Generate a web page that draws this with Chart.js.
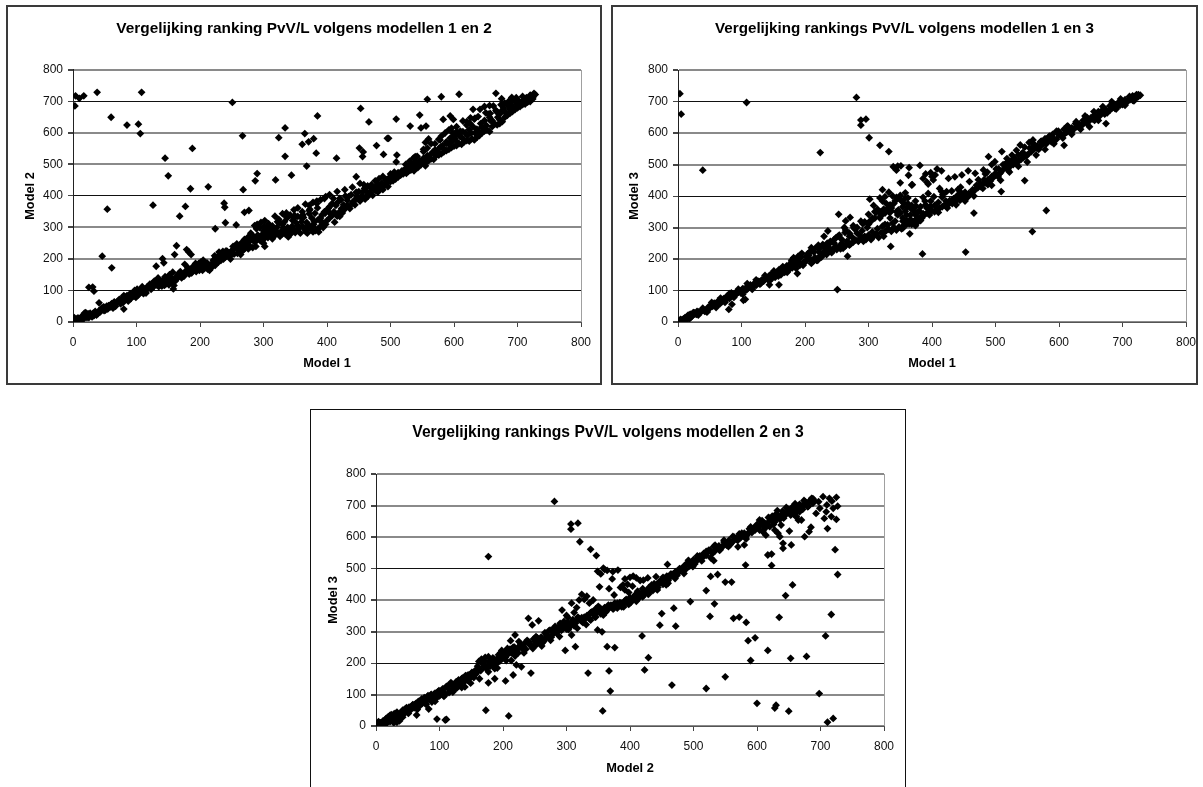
<!DOCTYPE html>
<html>
<head>
<meta charset="utf-8">
<style>
  html, body { margin:0; padding:0; background:#fff; width:1203px; height:787px; overflow:hidden; }
  canvas { position:absolute; }
  .box { position:absolute; box-sizing:border-box; background:#fff; }
</style>
<script src="https://cdn.jsdelivr.net/npm/chart.js@4/dist/chart.umd.min.js"></script>
</head>
<body>
<div class="box" style="left:6px;top:5px;width:596px;height:380px;border:2px solid #3a3a3a"></div>
<div class="box" style="left:611px;top:5px;width:587px;height:380px;border:2px solid #3a3a3a"></div>
<div class="box" style="left:310px;top:409px;width:596px;height:400px;border:1px solid #111"></div>
<canvas id="c12" width="596" height="380" style="left:6px;top:5px"></canvas>
<canvas id="c13" width="587" height="380" style="left:611px;top:5px"></canvas>
<canvas id="c23" width="596" height="377" style="left:310px;top:410px"></canvas>
<script>
const tickValues = [0, 100, 200, 300, 400, 500, 600, 700, 800];

// model 1 against model 2
const x12Far = [3,4,10,17,38,108,60,85,103,106,251,267,385,334,324,365,361,371,379,383,334,368,344,319,287,290,268,213,185,188,145,150,126,177,168,238,239,240,224,257,270,277,54,46,61,25,31,33,41,80,163,160,179,182,186,176,141,143,131,158,302,415,453,466,509,531,546,548,556,558,580,608,666,675,691,451,457,456,478,489,495,497,510,509,446,412,420];
const y12Far = [686,718,710,718,729,729,650,625,628,598,697,591,654,616,585,598,564,572,582,536,526,495,466,451,448,471,420,429,423,551,520,464,371,367,336,377,364,315,296,308,348,354,358,209,172,110,111,98,61,41,242,214,230,223,214,183,201,188,177,105,240,520,678,635,644,622,657,616,622,707,715,723,726,709,713,552,540,525,560,532,583,583,530,508,461,317,335];
const x12Low = [0,2,4,6,8,10,13,16,18,20,23,26,29,32,35,38,41,44,47,50,53,56,59,62,65,68,71,74,77,80,83,86,89,92,95,98,101,104,107,110,113,116,119,122,125,128,131,134,137,140,143,146,149,152,155,158,161,164,167,170,173,176,179,182,185,188,191,194,197,200,203,206,209,212,215,218,221,224,227,230,233,236,239,242,245,248,250,254,258,262,266,270,274,278,282,286,290,294,298,302,306,310,314,318,322,326,330,334,338,342,346,350,354,358,362,366,370,374,378,382,386,390,394,398,400,404,408,412,416,420,424,428,432,436,440,444,448,452,456,460,464,468,472,476,480,484,488,492,496,500,504,508,512,516,520,524,528,532,536,540,544,548,552,556,560,564,568,572,576,580,584,588,592,596,600,604,608,612,616,620,624,628,632,636,640,644,648,652,656,660,664,668,672,676,680,684,688,692,696,700,704,708,712,716,720,724,728];
const y12Low = [2,14,3,6,5,10,12,8,28,30,24,22,20,28,34,30,36,38,44,46,50,52,48,54,64,58,66,70,74,84,78,80,86,82,90,96,104,90,96,98,104,106,108,116,122,130,118,140,126,114,120,128,132,150,124,136,130,146,152,148,150,156,160,158,162,170,176,160,180,170,176,192,186,168,164,172,196,180,202,222,196,224,208,214,210,200,226,216,234,222,244,232,250,256,262,254,260,270,278,266,274,282,264,276,284,272,290,280,292,278,296,284,296,282,302,290,310,296,304,290,296,304,300,310,322,330,338,345,336,350,346,358,370,360,378,372,392,384,398,390,404,410,402,418,412,426,420,436,430,446,448,454,460,466,470,476,478,482,486,492,496,500,504,508,512,518,516,528,530,534,540,544,548,554,558,560,566,564,572,576,574,582,578,586,592,600,606,610,604,620,628,626,642,636,650,656,662,668,674,680,684,690,692,698,700,708,722];
const x12Up = [252,258,264,270,276,280,286,290,296,302,308,314,318,324,330,336,342,348,354,360,366,372,378,384,390,396,398,404,410,416,422,428,434,440,446,452,458,464,470,476,482,488,494,500,506,512,518,524,530,536,542,548,552,558,564,570,576,580,586,592,598,604,610,614,620,626,632,638,644,650,656,662,668,674,680,686,692,698,704,708,712,716,720,724];
const y12Up = [240,236,246,262,270,282,306,310,316,322,312,305,336,326,344,346,340,356,362,330,374,370,380,384,388,392,398,404,392,414,388,420,398,428,412,440,436,432,436,448,455,462,452,470,476,474,480,500,510,520,526,500,548,552,566,566,580,590,600,610,600,620,606,638,636,648,644,652,620,664,650,686,666,690,695,700,704,712,690,716,700,708,720,712];
const x12Mid = [300,306,312,322,330,338,346,354,362,368,372,376,380,386,392,398,404,410,630,641,648,656,657,667,672,583,594,599,596,601,604,614,625,633,620,638,651,578,588,560,555,552,539];
const y12Mid = [290,298,282,318,310,300,322,335,340,316,344,330,318,325,340,352,366,344,675,675,684,687,662,668,630,643,654,643,615,583,604,604,631,647,625,594,610,578,567,581,570,541,525];
const x12FillA = [5,11,17,22,27,33,39,45,51,57,63,69,75,81,87,93,99,105,111,117,123,129,135,141,147,153,159,165,171,177,183,189,195,201,207,213,219,225,231,237,243,249,255,261,267,273,279,285,291,297,303,309,315,321,327,333,339,345,351,357,363,369,375,381,387,393];
const y12FillA = [8,4,22,14,28,20,26,44,38,52,44,62,58,76,66,88,78,100,90,112,104,124,112,132,122,142,116,150,140,160,152,176,166,190,170,182,186,204,210,200,224,216,240,230,226,252,240,270,276,256,284,290,270,300,286,318,270,304,316,300,332,282,300,345,286,312];
const x12FillB = [9,15,25,31,37,43,49,55,61,67,73,79,85,91,97,103,109,115,121,127,133,139,145,151,157,163,169,175,181,187,193,199,205,211,217,223,229,235,241,247,253,259,265,271,277,283,289,295,301,307,313,319,325,331,337,343,349,355,361,367,373,379,385,391,397];
const y12FillB = [12,20,14,24,22,32,36,42,58,50,72,62,84,74,100,86,112,92,120,114,134,118,144,118,158,136,160,146,172,156,186,164,196,188,176,210,190,216,226,212,232,218,250,242,262,236,296,258,304,268,296,290,314,300,330,292,338,296,350,286,358,310,362,320,345];
const x12FillC = [402,408,414,420,426,432,438,444,450,456,462,468,474,480,486,492,498,504,510,516,522,528,534,540,546,552,558,564,570,576,582,588,594,600,606,612,618,624,630,636,642,648,654,660,666,672,678,684,690,696,702,708,714,720,726];
const y12FillC = [360,376,370,392,372,386,404,388,414,412,416,428,422,438,440,450,458,462,466,470,484,490,500,508,512,520,528,534,546,550,560,572,584,590,598,586,600,610,620,612,630,640,660,640,672,660,680,690,690,700,702,698,712,716,726];
const x12FillD = [405,411,417,423,429,435,441,447,453,459,465,471,477,483,489,495,501,507,513,519,525,531,537,543,549,555,561,567,573,579,585,591,597,603,609,615,621,627,633,639,645,651,657,663,669,675,681,687,693,699,705,711,717,723];
const y12FillD = [345,350,380,360,400,366,380,400,396,424,400,424,430,420,430,442,452,470,466,476,472,492,480,490,508,496,522,540,540,556,548,566,574,576,590,580,592,600,600,606,618,624,640,630,650,670,665,676,680,690,696,706,704,716];
const x12FillE = [3,7,12,19,24,30,36,42,48,54,60,66,72,78,84,90,96,102,108,114,120,126,132,138,144,150,156,162,168,174,180,186,192,198,204,210,216,222,228,234,240,246,252,258,264,270,276,282,288,294,300,306,312,318,324,330,336,342,348,354,360,366,372,378,384,390,396];
const y12FillE = [6,12,4,18,26,16,30,34,48,42,56,60,68,64,74,90,82,94,104,100,116,110,126,122,116,140,128,136,156,146,166,156,168,186,164,184,178,190,208,214,206,220,216,248,214,258,232,262,240,300,250,276,296,284,320,280,334,286,330,306,318,296,354,286,376,330,350];

// model 1 against model 3
const x13Far = [3,5,39,108,281,288,288,296,301,318,332,224,339,346,344,351,364,363,350,368,251,335,267,159,144,80,85,103,106,188,253,271,264,236,230,221,210,365,381,369,358,415,385,453,466,509,546,558,580,608,674];
const y13Far = [725,660,482,697,713,641,625,644,585,561,541,538,493,495,482,496,490,466,442,435,103,240,209,118,118,40,56,69,72,154,342,332,321,289,272,244,236,280,497,436,393,480,216,222,346,414,449,287,354,561,630];
const x13Low = [0,2,4,6,8,10,12,14,16,18,20,23,26,29,32,35,38,41,44,47,50,53,56,59,62,65,68,71,74,77,80,83,86,89,92,95,98,101,104,107,110,113,116,119,122,125,128,131,134,137,140,143,146,149,152,155,158,161,164,167,170,173,176,179,182,185,188,191,194,197,200,204,208,212,216,220,224,228,232,236,240,244,248,252,256,260,264,268,272,276,280,284,288,292,296,300,304,308,312,316,320,324,328,332,336,340,344,348,352,356,360,364,368,372,376,380,384,388,392,396,400,404,408,412,416,420,424,428,432,436,440,444,448,452,456,460,464,468,472,476,480,484,488,492,496,500,504,508,512,516,520,524,528,532,536,540,544,548,552,556,560,564,568,572,576,580,584,588,592,596,600,604,608,612,616,620,624,628,632,636,640,644,648,652,656,660,664,668,672,676,680,684,688,692,696,700,704,708,712,716,720,724,728];
const y13Low = [1,3,2,6,8,7,12,10,22,14,24,20,28,24,32,30,36,38,36,44,44,54,52,58,54,62,66,70,74,76,78,84,88,90,90,94,98,100,104,108,108,112,110,118,124,122,128,126,134,136,140,144,144,140,152,154,152,162,160,168,166,172,176,190,204,180,196,190,206,180,190,198,200,192,204,196,210,220,226,222,232,228,240,236,244,234,242,252,248,254,260,258,268,256,262,276,262,272,280,268,284,272,290,294,288,298,292,302,296,308,310,312,316,320,328,330,336,340,346,350,354,350,358,362,366,372,370,378,376,382,390,386,394,400,396,406,412,420,426,430,438,442,452,448,458,466,462,474,484,490,482,496,500,506,510,516,522,530,534,540,548,552,548,560,568,566,576,572,582,580,594,590,596,602,608,604,614,620,618,624,634,630,640,644,640,650,654,666,660,668,672,680,678,686,688,690,698,700,706,704,712,714,720,729];
const x13Up = [204,210,216,222,228,234,240,246,252,258,264,270,276,282,288,294,300,306,312,318,324,330,336,302,308,314,318,322,326,332,338,344,350,356,362,368,374,350,354,358,362,366,370,374,378,382,386,390,394,398,386,390,394,398,402,405,400,392,408,412,415,423,426,436,441,447,457,468,481,484,489,494,499,505,510,515,518,526,533,539,546,553,559];
const y13Up = [216,226,234,222,246,238,256,250,272,262,292,282,306,300,320,318,342,330,348,350,358,360,352,390,370,358,394,420,398,412,400,396,402,376,394,370,340,345,366,352,376,340,358,384,350,366,396,372,408,384,456,470,438,474,451,467,462,444,486,424,414,414,456,461,421,467,480,472,483,470,525,500,509,486,541,500,519,530,545,562,555,570,578];
const x13Loop = [300,310,320,326,334,342,348,354,360,366,372,378,384];
const y13Loop = [310,330,340,310,330,320,350,330,340,362,350,318,330];
const x13FillA = [1,3,5,7,9,11,13,15,17,19,21,24,27,30,33,36,39,42,45,48,51,54,57,60,63,66,69,72,75,78,81,84,87,90,93,96,99,102,105,108,111,114,117,120,123,126,129,132,135,138,141,144,147,150,153,156,159,162,165,168,171,174,177,180,183,186,189,192,195,198];
const y13FillA = [0,4,6,3,10,5,14,18,12,24,16,30,26,34,30,34,40,34,32,48,50,50,60,50,66,58,64,74,70,84,74,92,84,86,92,100,92,106,100,102,114,118,104,122,116,130,120,134,130,140,136,148,140,158,142,158,166,150,172,158,178,164,186,172,198,186,208,180,218,190];
const x13FillB = [202,206,210,214,218,222,226,230,234,238,242,246,250,254,258,262,266,270,274,278,282,286,290,294,298,302,306,310,314,318,322,326,330,334,338,342,346,350,354,358];
const y13FillB = [208,212,186,222,196,232,206,238,214,248,220,262,230,276,250,300,256,272,270,296,282,276,290,272,300,320,286,350,296,330,304,346,308,372,314,384,340,390,320,410];
const x13FillC = [322,328,336,340,344,352,360,366,374,380,386,392,398,404,410,416,422,428,434,440,446,452,458,464,470,476,482,488,494,500,506,512,518,524,530,536,542,548,554,560,566,572,578,584,590,596,602,608,614,620,626,632,638,644,650,656,662,668,674,680,686,692,698,704,710,716,722];
const y13FillC = [384,376,362,376,350,384,322,326,306,352,344,362,368,370,380,396,384,386,392,402,410,412,408,420,434,440,452,436,462,472,470,500,506,510,520,530,534,526,552,566,560,574,582,588,596,606,600,612,622,616,630,628,640,650,648,658,668,672,674,686,690,694,704,706,708,718,722];
const x13FillD = [4,11,18,25,32,39,46,53,60,67,74,81,88,95,102,109,116,123,130,137,144,151,158,165,172,179,186,193,200,207,214,221,228,235,242,249,256,263,270,277,284,291,298,305,312,319,326,333,340,347,354,361,368,375,382,389,396,403,410,417,424,431,438,445,452,459,466,473,480,487,494,501,508,515,522,529,536,543,550,557,564,571,578,585,592,599,606,613,620,627,634,641,648,655,662,669,676,683,690,697,704,711,718,725];
const y13FillD = [8,14,10,30,22,44,32,62,46,76,62,90,78,104,88,122,106,134,122,148,130,162,146,176,158,196,170,214,192,222,200,238,214,250,224,268,232,284,244,300,256,312,268,322,278,336,288,348,300,356,298,364,310,368,322,384,340,398,348,404,362,416,372,428,384,446,400,452,424,476,434,486,450,500,476,520,494,538,508,552,530,572,548,590,566,606,584,622,596,636,612,654,620,668,640,684,664,700,676,708,688,716,702,722];

// model 2 against model 3
const x23Far = [281,307,307,318,321,338,347,177,349,354,358,364,352,367,349,356,364,367,369,357,334,298,308,314,173,209,111,109,96,83,64,177,187,204,216,244,154,140,124,213,221,229,212,219,225,240,246,256,252,293,300,360,373,381,372,375,392,376,419,429,423,447,450,469,472,466,495,520,520,533,526,527,538,550,560,550,563,572,583,586,597,590,617,600,628,630,650,653,678,635,645,656,623,617,623,582,570,580,654,641,641,636,651,675,682,685,711,723,727,717,708,698,711,720,459,532,15,22,28,33,36,42];
const y23Far = [713,641,625,644,585,561,541,538,491,483,501,494,442,436,305,299,252,175,111,48,168,240,289,252,50,32,21,19,22,54,35,137,150,143,162,168,154,124,117,208,194,188,271,289,268,342,321,334,284,368,351,497,490,495,467,416,467,249,286,217,178,320,357,374,317,130,395,430,119,388,348,475,481,457,457,156,342,346,329,271,280,208,240,72,57,66,47,215,221,345,414,448,510,543,546,511,569,575,575,564,580,601,619,601,617,631,627,560,481,354,286,103,12,24,513,525,5,14,10,12,18,28];
const x23Main = [0,2,4,6,8,10,12,14,16,18,20,22,25,28,31,34,37,40,43,46,49,52,55,58,61,64,67,70,73,76,79,82,85,88,91,94,97,100,103,106,109,112,115,118,121,124,127,130,133,136,139,142,145,148,151,154,157,160,163,166,169,172,175,178,181,184,187,190,193,196,199,202,205,208,211,214,218,222,226,230,234,238,242,246,250,254,258,262,266,270,274,278,282,286,290,294,298,302,306,310,314,318,322,326,330,334,338,342,346,350,354,358,362,366,370,374,378,382,386,390,394,398,402,406,410,414,418,422,426,430,434,438,442,446,450,454,458,462,466,470,474,478,482,486,490,494,498,502,506,510,514,518,522,526,530,534,538,542,546,550,554,558,562,566,570,574,578,582,586,590,594,598,602,606,610,614,618,622,626,630,634,638,642,646,650,654,658,662,666,670,674,678,682];
const y23Main = [1,4,8,3,10,12,5,6,22,18,30,34,26,38,20,40,16,44,42,54,48,60,56,66,68,62,78,80,72,90,82,96,88,76,100,92,108,96,110,116,100,124,106,138,118,128,120,146,134,152,140,156,162,152,170,168,164,190,180,212,196,218,188,204,210,194,182,208,226,232,214,222,238,228,244,236,250,234,254,246,262,272,258,252,268,262,272,264,296,286,304,290,316,302,326,308,320,330,316,338,326,346,336,328,342,350,336,358,346,368,356,352,362,372,384,372,380,384,390,378,396,386,400,406,396,412,420,416,428,424,434,440,446,452,456,466,476,470,482,486,478,494,500,510,516,508,522,514,530,540,534,546,552,558,548,556,566,560,572,578,582,576,586,594,590,598,604,600,612,620,626,634,630,640,636,632,648,654,640,658,664,670,660,676,680,672,686,694,690,698,702,706,712];
const x23Spur = [296,302,308,312,316,320,324,328,332,336,342,346,350,356,385,389,396,400,405,410,416,421,428,434,441,446,452,460,463,392,398,404,412,420,430,438,614,609,620,625,630,638,633,628,656,659];
const y23Spur = [332,345,390,360,376,400,418,402,412,390,400,372,380,366,440,448,450,472,476,470,462,463,470,448,474,458,472,453,476,432,424,444,428,436,440,452,606,617,633,654,673,638,612,622,696,670];
const x23Top = [686,704,714,725,727,720,709,717,725,706,693,688,699,680,667,662,670,665,662,690,697,710,718];
const y23Top = [723,728,723,726,698,691,680,665,656,659,675,707,691,707,704,680,654,654,665,716,712,702,714];
const x23FillA = [1,3,5,7,9,11,13,15,17,19,21,24,27,30,33,36,39,42,45,48,51,54,57,60,63,66,69,72,75,78,81,84,87,90,93,96,99,102,105,108,111,114,117,120,123,126,129,132,135,138,141,144,147,150,153,156,159,162,165,168,171,174,177,180,183,186,189,192,195,198,201,204,207,210,213,216,220,224,228,232,236,240,244,248,252,256,260,264,268,272,276,280,284,288,292,296,300,304,308,312,316,320,324,328,332,336,340,344,348,352,356,360,364,368,372,376,380,384,388,392,396,400,404,408,412,416,420,424,428,432,436,440,444,448,452,456,460,464,468,472,476,480,484,488,492,496,500,504,508,512,516,520,524,528,532,536,540,544,548,552,556,560,564,568,572,576,580,584,588,592,596,600,604,608,612,616,620,624,628,632,636,640,644,648,652,656,660,664,668,672,676,680,684];
const y23FillA = [2,6,4,10,4,16,14,20,12,28,24,36,32,24,44,30,36,50,40,58,52,50,64,58,72,76,64,86,80,72,94,84,100,88,104,90,112,100,118,104,126,118,110,132,124,140,130,128,150,146,160,146,158,166,158,176,170,205,176,200,206,182,220,190,200,212,196,216,206,240,230,218,246,240,232,250,242,232,260,252,244,264,256,276,258,270,282,268,280,302,282,310,296,316,304,318,308,322,330,318,334,340,332,346,350,342,362,352,362,370,362,376,368,380,378,390,374,392,384,398,392,408,400,414,406,418,410,424,420,436,430,442,440,460,450,470,462,476,478,490,486,498,504,498,520,514,528,522,536,534,548,542,558,552,570,562,572,566,584,574,590,582,600,596,610,602,612,606,626,614,630,640,622,652,644,638,660,666,648,672,656,682,668,690,684,678,702,682,700,688,712,696,716];
const x23FillB = [4,10,16,23,30,37,44,51,58,65,72,79,86,93,100,107,114,121,128,135,142,149,156,163,170,177,184,191,198,205,212,219,226,233,240,247,254,261,268,275,282,289,296,303,310,317,324,331,338,345,352,359,366,373,380,387,394,401,408,415,422,429,436,443,450,457,464,471,478,485,492,499,506,513,520,527,534,541,548,555,562,569,576,583,590,597,604,611,618,625,632,639,646,653,660,667,674,681,688];
const y23FillB = [14,4,24,16,40,28,50,40,68,52,84,68,98,78,110,94,128,108,142,122,158,136,170,150,188,172,216,184,220,208,242,222,250,232,268,246,280,254,290,272,300,284,322,306,330,310,344,322,360,346,376,358,384,372,390,378,402,392,416,408,430,418,444,432,462,448,482,468,500,484,526,506,540,524,554,534,574,558,590,570,602,590,612,594,632,622,654,624,662,650,684,664,694,670,706,680,716,698,722];

const font = "'Liberation Sans', Arial, sans-serif";

function points(xs, ys) { return xs.map((x, i) => ({ x, y: ys[i] })); }

// grid lines of the reference alternate between crisp and smeared
const GRAY = "#8a8a8a", DARK = "#111";

function drawChart(id, cfg) {
  const c = document.getElementById(id);
  new Chart(c.getContext("2d"), {
    type: "scatter",
    data: {
      datasets: [{
        data: cfg.points,
        backgroundColor: "#000",
        borderWidth: 0,
        pointStyle: "rectRot",
        pointRadius: 3.9,
      }],
    },
    options: {
      responsive: false,
      animation: false,
      layout: { padding: 0 },
      plugins: {
        legend: { display: false },
        tooltip: { enabled: false },
        title: {
          display: true,
          text: cfg.title,
          color: "#000",
          font: { family: font, size: cfg.titleSize, weight: "bold" },
          padding: { top: cfg.titleTop, bottom: cfg.titleBottom },
        },
      },
      scales: {
        x: {
          type: "linear", min: 0, max: 800,
          afterBuildTicks: s => { s.ticks = tickValues.map(value => ({ value })); },
          afterFit: s => { s.height = cfg.xHeight; s.paddingLeft = 0; s.paddingRight = cfg.padRight; },
          grid: {
            color: t => t.index === 8 ? "#a0a0a0" : "rgba(0,0,0,0)",
            tickColor: "#444", tickLength: 5,
          },
          border: { color: "#555" },
          ticks: { color: "#111", font: { family: font, size: 12 }, padding: 8, maxRotation: 0 },
          title: {
            display: true, text: cfg.xLabel, color: "#000",
            font: { family: font, size: 12.8, weight: "bold" },
            padding: { top: 0, bottom: cfg.xTitlePad },
          },
        },
        y: {
          type: "linear", min: 0, max: 800,
          afterBuildTicks: s => { s.ticks = tickValues.map(value => ({ value })); },
          afterFit: s => { s.width = cfg.yWidth; },
          grid: {
            color: t => cfg.crisp.includes(t.tick.value) ? DARK : GRAY,
            lineWidth: t => cfg.crisp.includes(t.tick.value) ? 1 : 2,
            tickColor: "#444", tickLength: 5,
          },
          border: { color: "#222" },
          ticks: { color: "#111", font: { family: font, size: 12 }, padding: 5 },
          title: {
            display: true, text: cfg.yLabel, color: "#000",
            font: { family: font, size: 12.8, weight: "bold" },
            padding: { top: cfg.yTitlePad, bottom: 0 },
          },
        },
      },
    },
  });
}

drawChart("c12", {
  title: "Vergelijking ranking PvV/L volgens modellen 1 en 2",
  xLabel: "Model 1", yLabel: "Model 2",
  points: [...points(x12Low, y12Low), ...points(x12Up, y12Up), ...points(x12Mid, y12Mid), ...points(x12FillA, y12FillA), ...points(x12FillB, y12FillB), ...points(x12FillC, y12FillC), ...points(x12FillD, y12FillD), ...points(x12FillE, y12FillE), ...points(x12Far, y12Far)],
  titleSize: 15.4, titleTop: 14.8, titleBottom: 31.7,
  xHeight: 63, yWidth: 67, padRight: 21, xTitlePad: 14, yTitlePad: 17,
  crisp: [100, 400, 700],
});

drawChart("c13", {
  title: "Vergelijking rankings PvV/L volgens modellen 1 en 3",
  xLabel: "Model 1", yLabel: "Model 3",
  points: [...points(x13Low, y13Low), ...points(x13Up, y13Up), ...points(x13Loop, y13Loop), ...points(x13FillA, y13FillA), ...points(x13FillB, y13FillB), ...points(x13FillC, y13FillC), ...points(x13FillD, y13FillD), ...points(x13Far, y13Far)],
  titleSize: 15.2, titleTop: 14.8, titleBottom: 32,
  xHeight: 63, yWidth: 67, padRight: 12, xTitlePad: 14, yTitlePad: 16,
  crisp: [100, 400, 700],
});

drawChart("c23", {
  title: "Vergelijking rankings PvV/L volgens modellen 2 en 3",
  xLabel: "Model 2", yLabel: "Model 3",
  points: [...points(x23Main, y23Main), ...points(x23Spur, y23Spur), ...points(x23Top, y23Top), ...points(x23FillA, y23FillA), ...points(x23FillB, y23FillB), ...points(x23Far, y23Far)],
  titleSize: 15.7, titleTop: 13.6, titleBottom: 31.6,
  xHeight: 61, yWidth: 66, padRight: 22, xTitlePad: 11, yTitlePad: 16,
  crisp: [200, 500],
});
</script>
</body>
</html>
